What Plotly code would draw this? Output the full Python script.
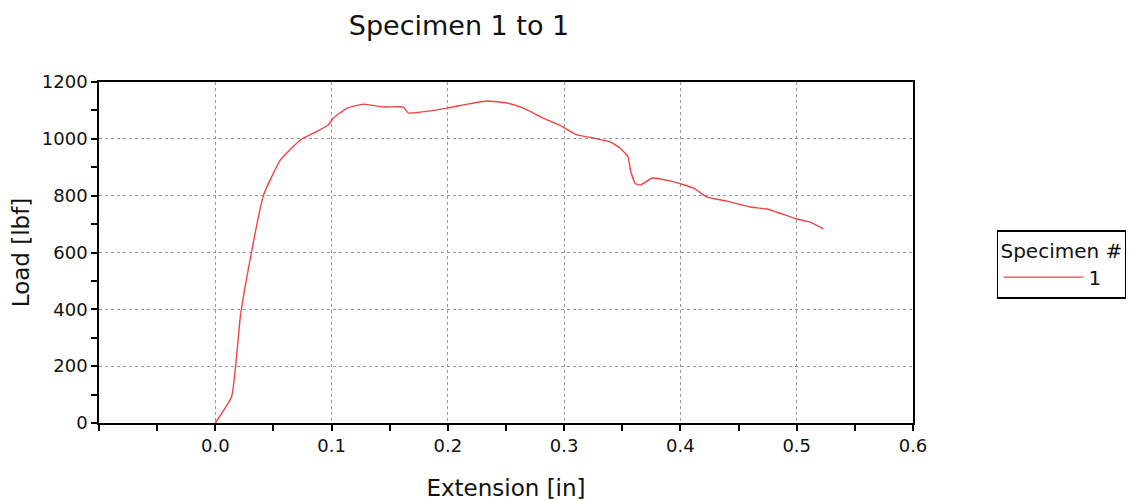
import plotly.graph_objects as go

extension_in = [0.0, 0.0141, 0.0215, 0.0267, 0.0415, 0.0559, 0.0731, 0.0843, 0.0972, 0.1015,
                0.1135, 0.1273, 0.1445, 0.1617, 0.166, 0.1763, 0.1995, 0.2167, 0.2339, 0.251,
                0.265, 0.282, 0.2966, 0.311, 0.325, 0.3397, 0.348, 0.355, 0.357, 0.361,
                0.3655, 0.3757, 0.391, 0.411, 0.423, 0.440, 0.460, 0.4745, 0.500, 0.5116, 0.523]
load_lbf = [0, 93, 373, 503, 802, 925, 996, 1020, 1049, 1073,
            1108, 1122, 1112, 1112, 1091, 1094, 1108, 1122, 1133, 1126,
            1108, 1073, 1047, 1014, 1003, 989, 968, 936, 890, 844,
            837, 862, 852, 827, 795, 781, 760, 753, 718, 707, 683]

x_tickvals = [-0.1, 0.0, 0.1, 0.2, 0.3, 0.4, 0.5, 0.6]
x_ticktext = ["", "0.0", "0.1", "0.2", "0.3", "0.4", "0.5", "0.6"]
y_tickvals = [0, 200, 400, 600, 800, 1000, 1200]

FONT = "DejaVu Sans"
TXT = "#111111"

fig = go.Figure()
fig.add_trace(go.Scatter(x=extension_in, y=load_lbf, mode="lines", name="1",
                         line=dict(color="#f04444", width=1.4, shape="spline", smoothing=0.4)))

axis_common = dict(showline=True, linecolor="black", linewidth=1.6, mirror=True,
                   ticks="outside", ticklen=6, tickcolor="black", tickwidth=1.6,
                   showgrid=True, gridcolor="#999999", griddash="dot", gridwidth=1.3,
                   zeroline=False, automargin=False,
                   tickfont=dict(family=FONT, size=18, color=TXT))

fig.update_xaxes(range=[-0.1, 0.6], tickmode="array", tickvals=x_tickvals, ticktext=x_ticktext,
                 minor=dict(dtick=0.05, tick0=0, ticks="outside", ticklen=6, tickcolor="black",
                            tickwidth=1.6, showgrid=False),
                 title=dict(text="Extension [in]", font=dict(family=FONT, size=23, color=TXT),
                            standoff=24),
                 **axis_common)
fig.update_yaxes(range=[0, 1200], tickmode="array", tickvals=y_tickvals,
                 minor=dict(dtick=100, tick0=0, ticks="outside", ticklen=6, tickcolor="black",
                            tickwidth=1.6, showgrid=False),
                 title=dict(text="Load [lbf]", font=dict(family=FONT, size=23, color=TXT),
                            standoff=11),
                 **axis_common)

fig.update_layout(
    width=1134, height=501,
    margin=dict(l=91, r=229, t=74, b=86),
    paper_bgcolor="white", plot_bgcolor="white",
    title=dict(text="Specimen 1 to 1", x=451 / 1134, xanchor="center", y=1 - 18 / 501, yanchor="middle",
               font=dict(family=FONT, size=27, color=TXT)),
    showlegend=True,
    legend=dict(x=1.103, y=0.566, xanchor="left", yanchor="top",
                title=dict(text="Specimen #", font=dict(family=FONT, size=20, color=TXT)),
                font=dict(family=FONT, size=20, color=TXT), itemwidth=80,
                bordercolor="black", borderwidth=1.6, bgcolor="white"),
)

fig.write_html("out.html")
